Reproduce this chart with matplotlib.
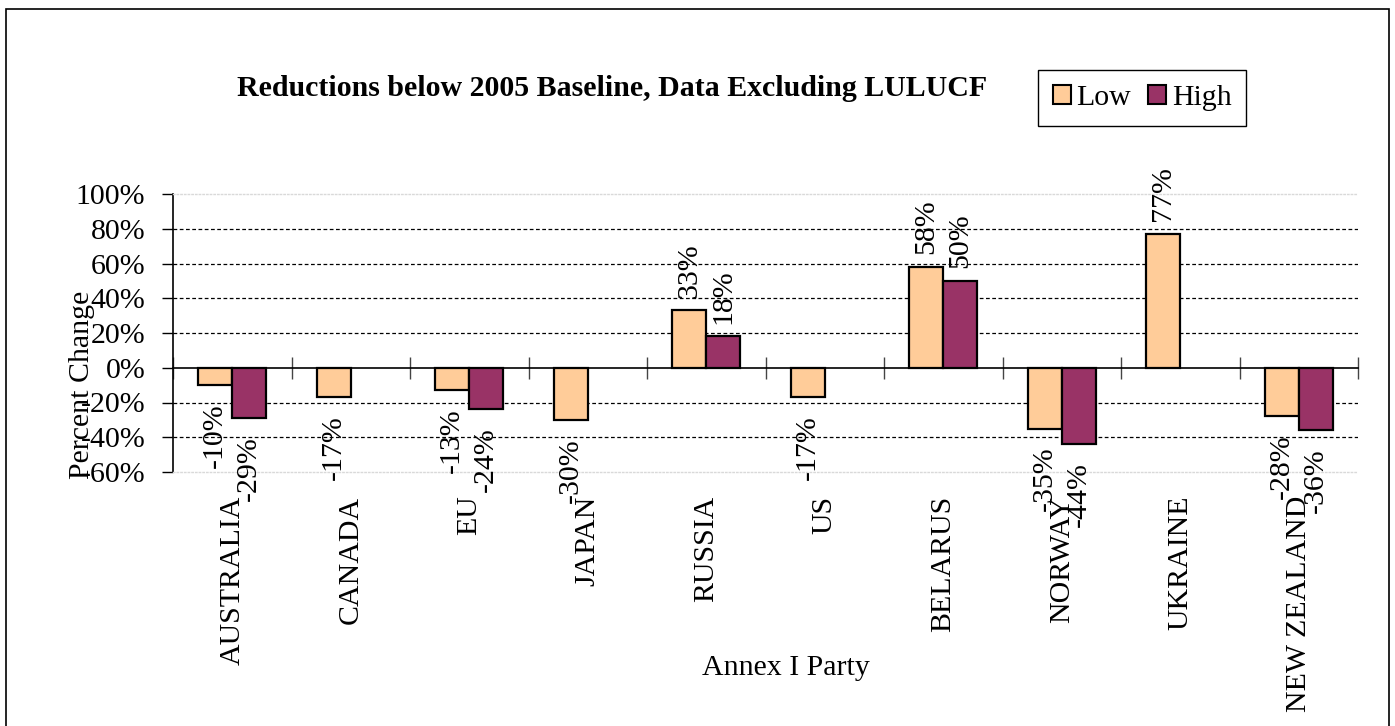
import numpy as np
import matplotlib
matplotlib.use('Agg')
import matplotlib.pyplot as plt
from matplotlib.patches import Rectangle, Patch
from matplotlib.ticker import FuncFormatter

plt.rcParams['font.family'] = ['Liberation Serif', 'DejaVu Serif']

parties = ['AUSTRALIA', 'CANADA', 'EU', 'JAPAN', 'RUSSIA', 'US',
           'BELARUS', 'NORWAY', 'UKRAINE', 'NEW ZEALAND']
low = [-10, -17, -13, -30, 33, -17, 58, -35, 77, -28]
high = [-29, np.nan, -24, np.nan, 18, np.nan, 50, -44, np.nan, -36]
yticks = [-60, -40, -20, 0, 20, 40, 60, 80, 100]

low_color = '#FFCC99'
high_color = '#993366'
fs = 21.5

W, H = 1395, 726
fig = plt.figure(figsize=(W / 100, H / 100), dpi=100)
ax = fig.add_axes([173 / W, 1 - 472 / H, (1358 - 173) / W, (472 - 194) / H])

x = np.arange(len(parties))
bw = 0.2857
ax.bar(x - bw / 2, low, bw, color=low_color, edgecolor='black', linewidth=1.6, zorder=3)
ax.bar(x + bw / 2, high, bw, color=high_color, edgecolor='black', linewidth=1.6, zorder=3)

# value labels, rotated like the original
for xs, vals in [(x - bw / 2, low), (x + bw / 2, high)]:
    for xi, v in zip(xs, vals):
        if np.isnan(v):
            continue
        off = 9 if v > 0 else -13
        ax.annotate(f'{v:.0f}%', xy=(xi, v), xytext=(0, off), textcoords='offset points',
                    rotation=90, ha='center', va='bottom' if v > 0 else 'top',
                    fontsize=fs, zorder=5)

ax.set_xlim(-0.5, len(parties) - 0.5)
ax.set_ylim(-60, 100)
ax.set_yticks(yticks)
ax.yaxis.set_major_formatter(FuncFormatter(lambda v, p: f'{v:.0f}%'))
ax.tick_params(axis='y', direction='out', length=8, width=1, labelsize=fs, pad=12)

# gridlines at interior levels
for yv in yticks[1:-1]:
    if yv != 0:
        ax.axhline(yv, color='black', linewidth=0.9, linestyle=(0, (3, 2)), zorder=1)

ax.set_xticks(x)
ax.set_xticklabels(parties, rotation=90, fontsize=fs)
ax.tick_params(axis='x', length=0, pad=17)

for s in ['top', 'bottom']:
    ax.spines[s].set_color('#d9d9d9')
    ax.spines[s].set_linestyle(':')
    ax.spines[s].set_linewidth(1)
ax.spines['right'].set_visible(False)
ax.spines['left'].set_linewidth(1.2)

# category axis crossing at zero, ticks between groups
zero_frac = (0 - (-60)) / (100 - (-60))
sec = ax.secondary_xaxis(zero_frac)
sec.set_xticks(np.arange(-0.5, len(parties), 1.0))
sec.tick_params(axis='x', direction='inout', length=16, width=1, color='#444444',
                labelbottom=False, labeltop=False)
sec.spines['bottom'].set_linewidth(1.2)
sec.spines['top'].set_linewidth(1.2)

fig.text(612 / W, 1 - 96 / H, 'Reductions below 2005 Baseline, Data Excluding LULUCF',
         ha='center', va='baseline', fontsize=21.5, fontweight='bold')
fig.text(786 / W, 1 - 668 / H, 'Annex I Party', ha='center', va='center', fontsize=fs)
fig.text(82 / W, 1 - 385 / H, 'Percent Change', ha='center', va='center',
         rotation=90, fontsize=fs)

handles = [Patch(facecolor=low_color, edgecolor='black', linewidth=1.5, label='Low'),
           Patch(facecolor=high_color, edgecolor='black', linewidth=1.5, label='High')]
fig.legend(handles=handles, loc='center', bbox_to_anchor=(1142 / W, 1 - 98 / H), ncol=2,
           fontsize=fs, frameon=True, fancybox=False, edgecolor='black', framealpha=1,
           handlelength=0.6, handleheight=0.6, handletextpad=0.2, columnspacing=0.55,
           borderpad=0.5, borderaxespad=0)

fig.patches.append(Rectangle((6 / W, -0.05), (1389 - 6) / W, 1.05 - 9 / H,
                             transform=fig.transFigure, fill=False, edgecolor='black',
                             linewidth=1.2))

fig.savefig('out.png', dpi=100)
